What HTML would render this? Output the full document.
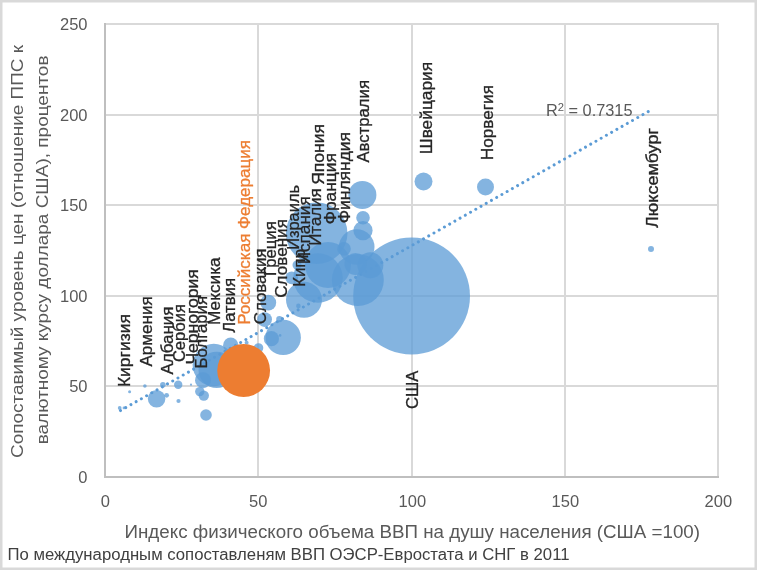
<!DOCTYPE html>
<html lang="ru"><head><meta charset="utf-8"><title>Сопоставимый уровень цен</title>
<style>html,body{margin:0;padding:0;background:#fff}body{width:757px;height:570px;overflow:hidden}svg{display:block;will-change:transform}text{font-family:"Liberation Sans",sans-serif}</style></head><body>
<svg width="757" height="570" viewBox="0 0 757 570">
<rect x="0" y="0" width="757" height="570" fill="#fff"/>
<rect x="1.25" y="1.25" width="754.5" height="567.5" fill="none" stroke="#d9d9d9" stroke-width="2.5"/>
<g stroke="#d9d9d9" stroke-width="2" fill="none">
<line x1="104" x2="719" y1="386" y2="386"/>
<line x1="104" x2="719" y1="296" y2="296"/>
<line x1="104" x2="719" y1="205" y2="205"/>
<line x1="104" x2="719" y1="115" y2="115"/>
<line x1="104" x2="719" y1="24" y2="24"/>
<line y1="478" y2="23" x1="258" x2="258"/>
<line y1="478" y2="23" x1="412" x2="412"/>
<line y1="478" y2="23" x1="565" x2="565"/>
<line y1="478" y2="23" x1="718" x2="718"/>
</g>
<g stroke="#bfbfbf" stroke-width="2" fill="none">
<line x1="104" x2="719" y1="477" y2="477"/>
<line x1="105" x2="105" y1="478" y2="23"/>
</g>
<line x1="648.2" y1="111.6" x2="120.4" y2="410.6" stroke="#5b9bd5" stroke-width="3" stroke-linecap="round" stroke-dasharray="0.01 5.995"/>
<g fill="#5b9bd5" fill-opacity="0.75">
<circle cx="411.6" cy="296" r="58.4"/>
<circle cx="316.7" cy="233.3" r="30.8"/>
<circle cx="357.8" cy="280" r="26"/>
<circle cx="328" cy="265" r="23"/>
<circle cx="318" cy="278" r="24.7"/>
<circle cx="304" cy="299.8" r="18"/>
<circle cx="356.7" cy="247" r="17.8"/>
<circle cx="283.2" cy="337.4" r="17.7"/>
<circle cx="280.1" cy="335.4" r="1.3"/>
<circle cx="213.8" cy="365" r="21.2"/>
<circle cx="216.7" cy="369.9" r="18.2"/>
<circle cx="362.4" cy="195" r="14"/>
<circle cx="370.3" cy="265.3" r="13"/>
<circle cx="355.5" cy="264" r="11"/>
<circle cx="363" cy="230.6" r="9.6"/>
<circle cx="363" cy="217.8" r="6.8"/>
<circle cx="344" cy="248.8" r="6.8"/>
<circle cx="423.5" cy="181.5" r="9"/>
<circle cx="485.5" cy="187" r="8.5"/>
<circle cx="651" cy="249" r="3"/>
<circle cx="291.7" cy="277.8" r="6.4"/>
<circle cx="297" cy="265" r="4.5"/>
<circle cx="271.4" cy="338.7" r="7.6"/>
<circle cx="230.7" cy="345.2" r="7.6"/>
<circle cx="258.5" cy="348" r="4.8"/>
<circle cx="246.6" cy="342.7" r="2"/>
<circle cx="203" cy="380.2" r="8"/>
<circle cx="199.8" cy="391.6" r="4.7"/>
<circle cx="203.8" cy="395.6" r="5.2"/>
<circle cx="206" cy="415" r="5.8"/>
<circle cx="156.6" cy="398.7" r="8.8"/>
<circle cx="178.2" cy="384.7" r="4.2"/>
<circle cx="162.9" cy="384.8" r="2.8"/>
<circle cx="144.9" cy="386" r="1.8"/>
<circle cx="129.6" cy="391.8" r="1.5"/>
<circle cx="166.6" cy="395.3" r="2.4"/>
<circle cx="178.5" cy="401" r="2.1"/>
<circle cx="119.7" cy="407.9" r="1.9"/>
<circle cx="124" cy="407.9" r="1.4"/>
<circle cx="191" cy="384.7" r="1.1"/>
<circle cx="268.3" cy="302.7" r="7.9"/>
<circle cx="264.6" cy="319.6" r="7.4"/>
<circle cx="279.4" cy="319.1" r="3.2"/>
<circle cx="282.2" cy="318.6" r="1.3"/>
<circle cx="298.4" cy="305.9" r="2.3"/>
</g>
<circle cx="243.65" cy="370.5" r="26.4" fill="#ed7d31"/>
<g fill="#595959" font-size="16.5" text-anchor="end">
<text x="87.5" y="482.50">0</text>
<text x="87.5" y="391.50">50</text>
<text x="87.5" y="301.50">100</text>
<text x="87.5" y="210.50">150</text>
<text x="87.5" y="120.50">200</text>
<text x="87.5" y="29.50">250</text>
</g>
<g fill="#595959" font-size="16.5" text-anchor="middle">
<text x="105.30" y="506.8">0</text>
<text x="258.30" y="506.8">50</text>
<text x="412.30" y="506.8">100</text>
<text x="565.30" y="506.8">150</text>
<text x="718.30" y="506.8">200</text>
</g>
<text x="124.5" y="538" font-size="17.5" fill="#595959" textLength="575.5" lengthAdjust="spacingAndGlyphs">Индекс физического объема ВВП на душу населения (США =100)</text>
<text x="7.5" y="560.3" font-size="15.8" fill="#404040" textLength="562" lengthAdjust="spacingAndGlyphs">По международным сопоставленям ВВП ОЭСР-Евростата и СНГ в 2011</text>
<text transform="translate(23.4 458) rotate(-90)" font-size="16.5" fill="#595959" textLength="413" lengthAdjust="spacingAndGlyphs">Сопоставимый уровень цен (отношение ППС к</text>
<text transform="translate(48 444.3) rotate(-90)" font-size="16.5" fill="#595959" textLength="388.8" lengthAdjust="spacingAndGlyphs">валютному курсу доллара США), процентов</text>
<text x="546" y="116" font-size="16" fill="#595959" textLength="86.5" lengthAdjust="spacingAndGlyphs">R<tspan font-size="11" dy="-5.5">2</tspan><tspan dy="5.5"> = 0.7315</tspan></text>
<g font-size="16">
<text transform="translate(130 387.1) rotate(-90)" fill="#262626" stroke="#262626" stroke-width="0.3" textLength="73" lengthAdjust="spacingAndGlyphs">Киргизия</text>
<text transform="translate(152 366.6) rotate(-90)" fill="#262626" stroke="#262626" stroke-width="0.3" textLength="70.4" lengthAdjust="spacingAndGlyphs">Армения</text>
<text transform="translate(172.8 374.5) rotate(-90)" fill="#262626" stroke="#262626" stroke-width="0.3" textLength="67.9" lengthAdjust="spacingAndGlyphs">Албания</text>
<text transform="translate(185.4 362.1) rotate(-90)" fill="#262626" stroke="#262626" stroke-width="0.3" textLength="58.1" lengthAdjust="spacingAndGlyphs">Сербия</text>
<text transform="translate(198.1 364.6) rotate(-90)" fill="#262626" stroke="#262626" stroke-width="0.3" textLength="95.4" lengthAdjust="spacingAndGlyphs">Черногория</text>
<text transform="translate(207.3 368.4) rotate(-90)" fill="#262626" stroke="#262626" stroke-width="0.3" textLength="72.4" lengthAdjust="spacingAndGlyphs">Болгария</text>
<text transform="translate(220 325) rotate(-90)" fill="#262626" stroke="#262626" stroke-width="0.3" textLength="67.7" lengthAdjust="spacingAndGlyphs">Мексика</text>
<text transform="translate(234.8 332.8) rotate(-90)" fill="#262626" stroke="#262626" stroke-width="0.3" textLength="54.8" lengthAdjust="spacingAndGlyphs">Латвия</text>
<text transform="translate(250 324.8) rotate(-90)" fill="#ed7d31" stroke="#ed7d31" stroke-width="0.3" textLength="184.8" lengthAdjust="spacingAndGlyphs">Российская Федерация</text>
<text transform="translate(265.7 324.3) rotate(-90)" fill="#262626" stroke="#262626" stroke-width="0.3" textLength="75.8" lengthAdjust="spacingAndGlyphs">Словакия</text>
<text transform="translate(276 276) rotate(-90)" fill="#262626" stroke="#262626" stroke-width="0.3" textLength="54.8" lengthAdjust="spacingAndGlyphs">Греция</text>
<text transform="translate(287.4 297.8) rotate(-90)" fill="#262626" stroke="#262626" stroke-width="0.3" textLength="78.7" lengthAdjust="spacingAndGlyphs">Словения</text>
<text transform="translate(305.3 287) rotate(-90)" fill="#262626" stroke="#262626" stroke-width="0.3" textLength="38" lengthAdjust="spacingAndGlyphs">Кипр</text>
<text transform="translate(299.2 249.8) rotate(-90)" fill="#262626" stroke="#262626" stroke-width="0.3" textLength="64.8" lengthAdjust="spacingAndGlyphs">Израиль</text>
<text transform="translate(310.3 264.3) rotate(-90)" fill="#262626" stroke="#262626" stroke-width="0.3" textLength="68" lengthAdjust="spacingAndGlyphs">Испания</text>
<text transform="translate(320.6 245.8) rotate(-90)" fill="#262626" stroke="#262626" stroke-width="0.3" textLength="57.5" lengthAdjust="spacingAndGlyphs">Италия</text>
<text transform="translate(324 184.8) rotate(-90)" fill="#262626" stroke="#262626" stroke-width="0.3" textLength="60.8" lengthAdjust="spacingAndGlyphs">Япония</text>
<text transform="translate(335.8 224.2) rotate(-90)" fill="#262626" stroke="#262626" stroke-width="0.3" textLength="71" lengthAdjust="spacingAndGlyphs">Франция</text>
<text transform="translate(350 223.2) rotate(-90)" fill="#262626" stroke="#262626" stroke-width="0.3" textLength="91.2" lengthAdjust="spacingAndGlyphs">Финляндия</text>
<text transform="translate(369 162.6) rotate(-90)" fill="#262626" stroke="#262626" stroke-width="0.3" textLength="82.6" lengthAdjust="spacingAndGlyphs">Австралия</text>
<text transform="translate(432 154.2) rotate(-90)" fill="#262626" stroke="#262626" stroke-width="0.3" textLength="92.2" lengthAdjust="spacingAndGlyphs">Швейцария</text>
<text transform="translate(493 160.2) rotate(-90)" fill="#262626" stroke="#262626" stroke-width="0.3" textLength="75.2" lengthAdjust="spacingAndGlyphs">Норвегия</text>
<text transform="translate(658.3 228) rotate(-90)" fill="#262626" stroke="#262626" stroke-width="0.3" textLength="100" lengthAdjust="spacingAndGlyphs">Люксембург</text>
<text transform="translate(418 409) rotate(-90)" fill="#262626" stroke="#262626" stroke-width="0.3" textLength="38.5" lengthAdjust="spacingAndGlyphs">США</text>
</g>
</svg></body></html>
